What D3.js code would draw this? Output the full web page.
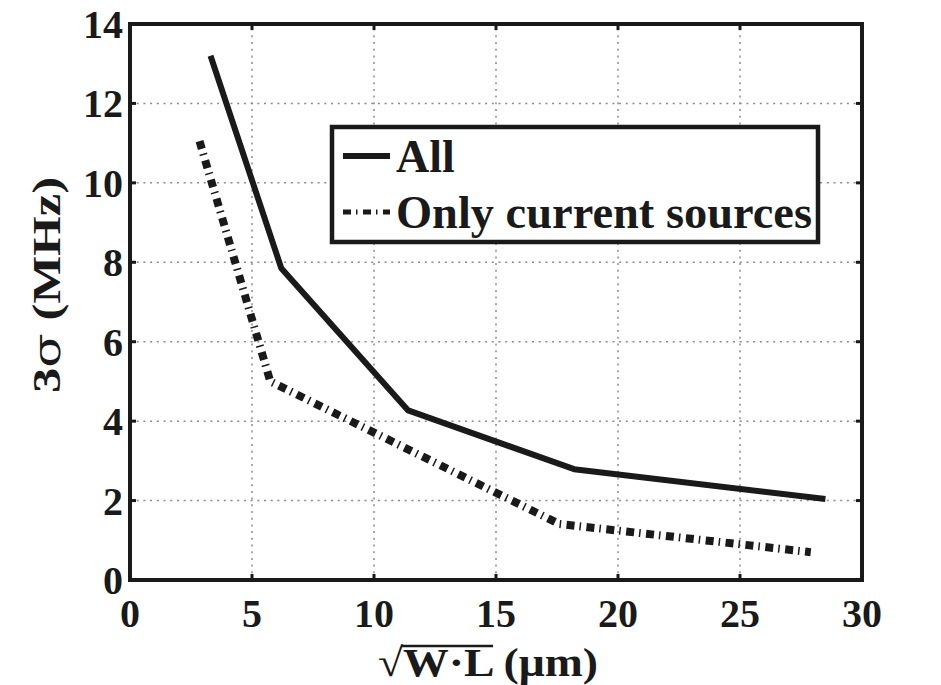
<!DOCTYPE html>
<html>
<head>
<meta charset="utf-8">
<script src="https://cdn.jsdelivr.net/npm/d3@7/dist/d3.min.js"></script>
<style>
  html, body { margin: 0; padding: 0; background: #fff; }
  svg { display: block; }
  text { font-family: "Liberation Serif", "Times New Roman", serif; font-weight: bold; fill: #1a1a1a; }
</style>
</head>
<body>
<svg id="chart" width="941" height="685"></svg>
<script>
// Series: frequency spread (3σ, MHz) versus device size sqrt(W·L) (µm)
const allX = [3.3, 6.2, 11.4, 18.2, 28.5];
const allY = [13.2, 7.85, 4.27, 2.79, 2.04];
const srcX = [2.85, 5.75, 17.6, 27.9];
const srcY = [11.05, 5.0, 1.41, 0.70];

const xTicks = [0, 5, 10, 15, 20, 25, 30];
const yTicks = [0, 2, 4, 6, 8, 10, 12, 14];
const seriesNames = ["All", "Only current sources"];

const svg = d3.select("#chart");
const plotL = 130, plotR = 862, plotT = 24, plotB = 580;

const x = d3.scaleLinear().domain([0, 30]).range([plotL, plotR]);
const y = d3.scaleLinear().domain([0, 14]).range([plotB, plotT]);

const ink = "#1a1a1a";

// dotted grid
const grid = svg.append("g").attr("stroke", "#8a8a8a").attr("stroke-width", 1.5)
  .attr("stroke-dasharray", "2,4.7");
grid.selectAll("line.v").data(xTicks.slice(1, -1)).join("line").attr("class", "v")
  .attr("x1", d => x(d)).attr("x2", d => x(d)).attr("y1", plotB).attr("y2", plotT);
grid.selectAll("line.h").data(yTicks.slice(1, -1)).join("line").attr("class", "h")
  .attr("x1", plotL).attr("x2", plotR).attr("y1", d => y(d)).attr("y2", d => y(d));

// inward ticks on all four sides
const tickLen = 6;
const ticks = svg.append("g").attr("stroke", ink).attr("stroke-width", 3);
xTicks.forEach(t => {
  ticks.append("line").attr("x1", x(t)).attr("x2", x(t)).attr("y1", plotB).attr("y2", plotB - tickLen);
  ticks.append("line").attr("x1", x(t)).attr("x2", x(t)).attr("y1", plotT).attr("y2", plotT + tickLen);
});
yTicks.forEach(t => {
  ticks.append("line").attr("x1", plotL).attr("x2", plotL + tickLen).attr("y1", y(t)).attr("y2", y(t));
  ticks.append("line").attr("x1", plotR).attr("x2", plotR - tickLen).attr("y1", y(t)).attr("y2", y(t));
});

// tick labels
svg.append("g").selectAll("text").data(xTicks).join("text")
  .attr("x", d => x(d)).attr("y", 627).attr("text-anchor", "middle")
  .attr("font-size", 40).text(d => d);
svg.append("g").selectAll("text").data(yTicks).join("text")
  .attr("x", 123).attr("y", d => y(d) + 14).attr("text-anchor", "end")
  .attr("font-size", 40).text(d => d);

// series lines
const line = d3.line().x(d => x(d[0])).y(d => y(d[1]));
svg.append("path").datum(d3.zip(srcX, srcY)).attr("d", line)
  .attr("fill", "none").attr("stroke", ink).attr("stroke-width", 8)
  .attr("stroke-dasharray", "8,5,1.5,5.5").attr("stroke-linejoin", "miter");
svg.append("path").datum(d3.zip(allX, allY)).attr("d", line)
  .attr("fill", "none").attr("stroke", ink).attr("stroke-width", 6)
  .attr("stroke-linejoin", "round");

// frame
svg.append("rect").attr("x", plotL).attr("y", plotT).attr("width", plotR - plotL).attr("height", plotB - plotT)
  .attr("fill", "none").attr("stroke", ink).attr("stroke-width", 4);

// legend
const lg = svg.append("g");
lg.append("rect").attr("x", 332).attr("y", 127).attr("width", 486).attr("height", 115)
  .attr("fill", "#fff").attr("stroke", ink).attr("stroke-width", 4.5);
lg.append("line").attr("x1", 343).attr("x2", 390).attr("y1", 156).attr("y2", 156)
  .attr("stroke", ink).attr("stroke-width", 6);
lg.append("line").attr("x1", 343).attr("x2", 390).attr("y1", 212).attr("y2", 212)
  .attr("stroke", ink).attr("stroke-width", 5).attr("stroke-dasharray", "8,5,1.5,5.5");
lg.append("text").attr("x", 396).attr("y", 172).attr("font-size", 46).text(seriesNames[0]);
lg.append("text").attr("x", 396).attr("y", 228).attr("font-size", 46)
  .attr("textLength", 416).attr("lengthAdjust", "spacingAndGlyphs").text(seriesNames[1]);

// y-axis title (upright sigma from DejaVu Serif)
const yt = svg.append("text").attr("transform", "translate(60,285) rotate(-90)")
  .attr("text-anchor", "middle").attr("font-size", 40)
  .attr("textLength", 216).attr("lengthAdjust", "spacingAndGlyphs");
yt.append("tspan").text("3");
yt.append("tspan").attr("font-family", "DejaVu Serif").attr("font-weight", "normal").text("σ");
yt.append("tspan").text(" (MHz)");

// x-axis title with a radical sign and overbar
const titleW = 220, titleC = 488;
const xt = svg.append("text").attr("x", titleC - titleW / 2).attr("y", 676).attr("font-size", 40)
  .attr("textLength", titleW).attr("lengthAdjust", "spacingAndGlyphs");
xt.append("tspan").text("√");
xt.append("tspan").text("W·L");
xt.append("tspan").text(" (μm)");
const full = xt.node();
const s0 = full.getSubStringLength(0, 1);
const s1 = full.getSubStringLength(1, 3);
const x0 = titleC - titleW / 2 + s0;
svg.append("line").attr("x1", x0 - 2).attr("x2", x0 + s1 + 1)
  .attr("y1", 646).attr("y2", 646).attr("stroke", ink).attr("stroke-width", 2.5);
</script>
</body>
</html>
